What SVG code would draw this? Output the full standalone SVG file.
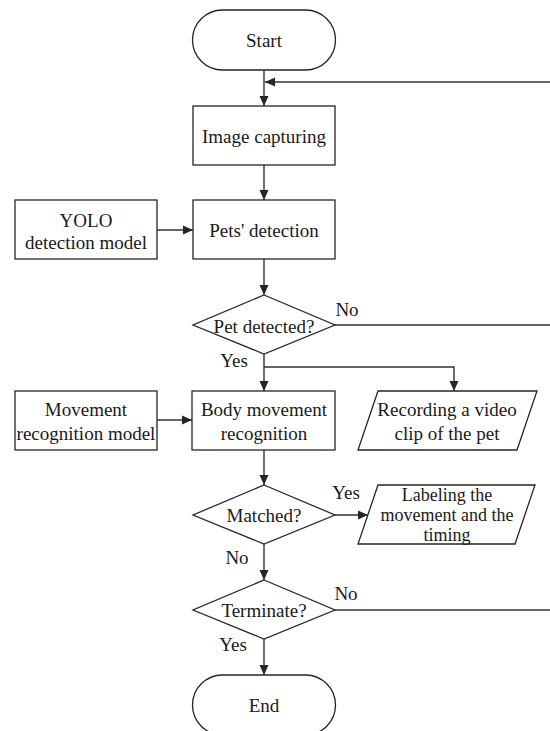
<svg xmlns="http://www.w3.org/2000/svg" width="550" height="731" viewBox="0 0 550 731">
<defs>
<marker id="ah" markerUnits="userSpaceOnUse" markerWidth="10" markerHeight="10" viewBox="0 0 10 9" refX="10" refY="4.5" orient="auto">
<path d="M0,0 L10,4.5 L0,9 Z" fill="#262626"/>
</marker>
<style>
.s{fill:#fff;stroke:#262626;stroke-width:1.3}
.c{fill:none;stroke:#333;stroke-width:1.4}
text{font-family:'Liberation Serif','DejaVu Serif',serif;font-size:19px;fill:#1a1a1a;text-anchor:middle;dominant-baseline:central}
.sm{font-size:18px}
</style>
</defs>
<rect width="550" height="731" fill="#fff"/>
<g id="connectors">
<line class="c" x1="264" y1="70" x2="264" y2="106" marker-end="url(#ah)"/>
<line class="c" x1="550" y1="82" x2="265" y2="82" marker-end="url(#ah)"/>
<line class="c" x1="264" y1="165" x2="264" y2="200" marker-end="url(#ah)"/>
<line class="c" x1="157" y1="230" x2="193" y2="230" marker-end="url(#ah)"/>
<line class="c" x1="264" y1="259" x2="264" y2="295" marker-end="url(#ah)"/>
<line class="c" x1="335" y1="325" x2="550" y2="325"/>
<line class="c" x1="264" y1="354" x2="264" y2="391" marker-end="url(#ah)"/>
<polyline class="c" points="264,367 454,367 454,391" marker-end="url(#ah)"/>
<line class="c" x1="157" y1="420" x2="192" y2="420" marker-end="url(#ah)"/>
<line class="c" x1="264" y1="450" x2="264" y2="485" marker-end="url(#ah)"/>
<line class="c" x1="335" y1="515" x2="368" y2="515" marker-end="url(#ah)"/>
<line class="c" x1="264" y1="544" x2="264" y2="580" marker-end="url(#ah)"/>
<line class="c" x1="335" y1="610" x2="550" y2="610"/>
<line class="c" x1="264" y1="639" x2="264" y2="675" marker-end="url(#ah)"/>
<text x="347" y="309">No</text>
<text x="234" y="360">Yes</text>
<text x="346" y="492">Yes</text>
<text x="237" y="557">No</text>
<text x="346" y="593">No</text>
<text x="233" y="644">Yes</text>
</g>
<g id="start">
<rect class="s" x="192.5" y="10" width="143" height="60" rx="30" ry="30"/>
<text x="264" y="40">Start</text>
</g>
<g id="image-capturing">
<rect class="s" x="193" y="106" width="142" height="59"/>
<text x="264" y="136">Image capturing</text>
</g>
<g id="yolo">
<rect class="s" x="15" y="200" width="142" height="59"/>
<text x="86" y="220">YOLO</text>
<text x="86" y="242">detection model</text>
</g>
<g id="pets-detection">
<rect class="s" x="193" y="200" width="142" height="59"/>
<text x="264" y="230">Pets' detection</text>
</g>
<g id="pet-detected">
<polygon class="s" points="264,295 335,325 264,354 193,325"/>
<text x="264" y="326">Pet detected?</text>
</g>
<g id="movement-model">
<rect class="s" x="15" y="391" width="142" height="59"/>
<text x="86" y="409">Movement</text>
<text x="86" y="433">recognition model</text>
</g>
<g id="body-movement">
<rect class="s" x="192" y="391" width="143" height="59"/>
<text x="264" y="409">Body movement</text>
<text x="264" y="433">recognition</text>
</g>
<g id="recording">
<polygon class="s" points="378,391 537,391 517,450 358,450"/>
<text x="447" y="409">Recording a video</text>
<text x="447" y="433">clip of the pet</text>
</g>
<g id="matched">
<polygon class="s" points="264,485 335,515 264,544 193,515"/>
<text x="264" y="515">Matched?</text>
</g>
<g id="labeling">
<polygon class="s" points="378,485 535,485 515,544 358,544"/>
<text class="sm" x="447" y="495">Labeling the</text>
<text class="sm" x="447" y="515">movement and the</text>
<text class="sm" x="447" y="535">timing</text>
</g>
<g id="terminate">
<polygon class="s" points="264,580 335,610 264,639 193,610"/>
<text x="264" y="610">Terminate?</text>
</g>
<g id="end">
<rect class="s" x="192.5" y="675" width="143" height="60" rx="30" ry="30"/>
<text x="264" y="705">End</text>
</g>
</svg>
